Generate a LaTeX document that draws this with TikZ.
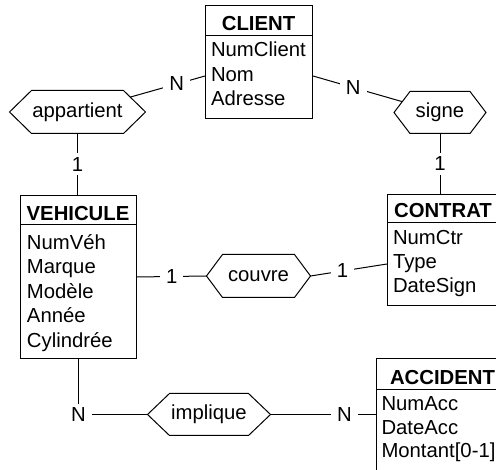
\documentclass[tikz,border=0pt]{standalone}
\usepackage{fontspec}
\setmainfont{Liberation Sans}
\usetikzlibrary{intersections,calc}
\newcommand\drawhexa[2]{\draw[name path=#1hex] (#1.west) -- ($(#1.north west)+(#2,0)$) -- ($(#1.north east)+(-#2,0)$) -- (#1.east) -- ($(#1.south east)+(-#2,0)$) -- ($(#1.south west)+(#2,0)$) -- cycle;}
\begin{document}
\begin{tikzpicture}[x=1pt,y=-1pt, line width=1pt,
  font=\fontsize{20.3}{24}\selectfont,
  entbox/.style={draw, inner sep=0pt, anchor=north west},
  relnode/.style={inner sep=0pt},
  hdr/.style={font=\fontsize{20.3}{24}\selectfont\bfseries, anchor=base, inner sep=0pt},
  attr/.style={anchor=base west, inner sep=0pt},
  card/.style={fill=white, inner xsep=6pt, inner ysep=4pt}
]
\useasboundingbox (0,0) rectangle (496,470);
\clip (0,0) rectangle (496,470);

% ---------- entities ----------
\node[entbox, minimum width=107pt, minimum height=113pt] (client) at (205,5) {};
\draw ($(client.north west)+(0,31)$) -- ($(client.north east)+(0,31)$);
\node[hdr] (clientH) at (258.5,31) {CLIENT};
\node[attr] (cA1) at (210.5,57) {NumClient};
\node[attr] (cA2) at (210.5,81.5) {Nom};
\node[attr] (cA3) at (210.5,106) {Adresse};

\node[entbox, minimum width=116pt, minimum height=163pt] (vehicule) at (20,195) {};
\draw ($(vehicule.north west)+(0,30)$) -- ($(vehicule.north east)+(0,30)$);
\node[hdr] (vehH) at (78,221) {VEHICULE};
\node[attr] (vA1) at (26.5,249.5) {NumVéh};
\node[attr] (vA2) at (26.5,274) {Marque};
\node[attr] (vA3) at (26.5,298.5) {Modèle};
\node[attr] (vA4) at (26.5,323) {Année};
\node[attr] (vA5) at (26.5,347.5) {Cylindrée};

\node[entbox, minimum width=111pt, minimum height=111pt] (contrat) at (387,194) {};
\draw ($(contrat.north west)+(0,29)$) -- ($(contrat.north east)+(0,29)$);
\node[hdr] (ctrH) at (443,218) {CONTRAT};
\node[attr] (tA1) at (392.5,245) {NumCtr};
\node[attr] (tA2) at (392.5,269) {Type};
\node[attr] (tA3) at (392.5,293) {DateSign};

\node[entbox, minimum width=139pt, minimum height=130pt] (accident) at (376,358) {};
\draw ($(accident.north west)+(0,32)$) -- ($(accident.north east)+(0,32)$);
\node[hdr] (accH) at (442.5,385) {ACCIDENT};
\node[attr] (aA1) at (381,411) {NumAcc};
\node[attr] (aA2) at (381,434.5) {DateAcc};
\node[attr] (aA3) at (381,458) {Montant[0-1]};

% ---------- relationships ----------
\node[relnode, minimum width=135pt, minimum height=42pt] (appartient) at (77.5,112) {appartient};
\drawhexa{appartient}{22}
\node[relnode, minimum width=91pt, minimum height=41pt] (signe) at (440,112.5) {signe};
\drawhexa{signe}{16}
\node[relnode, minimum width=103pt, minimum height=42pt] (couvre) at (258.5,276) {couvre};
\drawhexa{couvre}{16}
\node[relnode, minimum width=122pt, minimum height=41pt] (implique) at (209,414.5) {implique};
\drawhexa{implique}{22}

% ---------- connectors ----------
\coordinate (cL) at ($(client.north west)+(0,71)$);
\coordinate (cR) at ($(client.north east)+(0,71)$);
\path[name path=lnA] (cL) -- (appartient.center);
\path[name intersections={of=appartienthex and lnA, by=pA}];
\draw (cL) -- node[card, pos=0.38] (n1) {N} (pA);
\path[name path=lnS] (cR) -- (signe.center);
\path[name intersections={of=signehex and lnS, by=pS}];
\draw (cR) -- node[card, pos=0.45] (n2) {N} (pS);

\draw (appartient.south) -- node[card] (n3) {1} (appartient.south |- vehicule.north);
\draw (signe.south) -- node[card] (n4) {1} (signe.south |- contrat.north);

\draw (vehicule.east) -- node[card] (n5) {1} (couvre.west);
\coordinate (ctrIn) at ($(contrat.north west)+(0,70)$);
\draw (couvre.east) -- node[card, pos=0.42] (n6) {1} (ctrIn);

\draw (vehicule.south) |- node[card] (n7) {N} (implique.west);
\draw (implique.east) -- node[card, pos=0.7] (n8) {N} (implique.east -| accident.west);
\end{tikzpicture}
\end{document}
